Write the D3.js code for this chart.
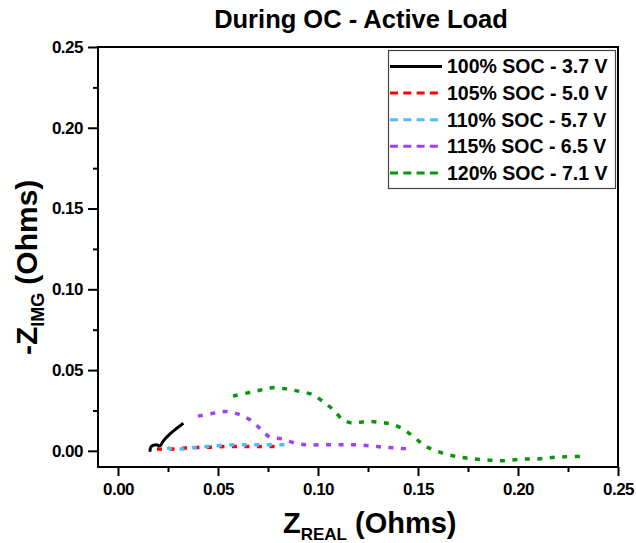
<!DOCTYPE html>
<html>
<head>
<meta charset="utf-8">
<script src="https://cdn.jsdelivr.net/npm/d3@7"></script>
<style>
  html, body { margin: 0; padding: 0; background: #fff; }
  svg { display: block; font-family: "Liberation Sans", Arial, sans-serif; }
</style>
</head>
<body>
<div id="chart"></div>
<script>
// tick values
const xTicks = [0.00, 0.05, 0.10, 0.15, 0.20, 0.25];
const xMinorTicks = [0.025, 0.075, 0.125, 0.175, 0.225];
const yTicks = [0.00, 0.05, 0.10, 0.15, 0.20, 0.25];
const yMinorTicks = [0.025, 0.075, 0.125, 0.175, 0.225];

// legend names
const seriesNames = ["100% SOC - 3.7 V", "105% SOC - 5.0 V", "110% SOC - 5.7 V", "115% SOC - 6.5 V", "120% SOC - 7.1 V"];

// Nyquist data: [Z real, -Z img] (Ohms)
const soc100 = [[0.016, -0.0005], [0.0165, 0.0025], [0.019, 0.0038], [0.021, 0.0031], [0.0225, 0.0059],
                [0.026, 0.0105], [0.0294, 0.014], [0.0327, 0.0171]];
const soc105 = [[0.0195, 0.0011], [0.0269, 0.0011], [0.0336, 0.0017], [0.0398, 0.002], [0.0464, 0.0023],
                [0.0531, 0.0027], [0.0594, 0.0027], [0.066, 0.0027], [0.0725, 0.0027], [0.0795, 0.0027]];
const soc110 = [[0.0245, 0.0017], [0.0319, 0.0011], [0.0385, 0.0021], [0.0447, 0.0027], [0.051, 0.0033],
                [0.0577, 0.0037], [0.064, 0.0037], [0.0707, 0.0037], [0.0769, 0.0037], [0.085, 0.0037]];
const soc115 = [[0.040, 0.0215], [0.0477, 0.0233], [0.054, 0.0243], [0.0602, 0.0227], [0.066, 0.0192],
                [0.0714, 0.0134], [0.076, 0.0085], [0.0819, 0.0074], [0.0885, 0.0048], [0.0944, 0.0037],
                [0.1002, 0.0037], [0.1069, 0.0037], [0.1132, 0.0037], [0.1197, 0.0037], [0.1264, 0.0031],
                [0.1327, 0.0023], [0.1394, 0.0017], [0.147, 0.0009]];
const soc120 = [[0.0575, 0.034], [0.0657, 0.0361], [0.0719, 0.0378], [0.0782, 0.0392], [0.0847, 0.0382],
                [0.091, 0.0367], [0.0974, 0.0347], [0.1027, 0.0302], [0.1077, 0.0254], [0.1124, 0.0192],
                [0.1174, 0.0172], [0.1235, 0.0181], [0.1302, 0.0178], [0.1364, 0.0166], [0.1427, 0.0134],
                [0.1485, 0.0079], [0.1535, 0.0031], [0.1585, 0.0002], [0.1652, -0.0025], [0.1715, -0.0039],
                [0.1777, -0.005], [0.1844, -0.0056], [0.191, -0.0062], [0.1974, -0.0056], [0.2035, -0.0051],
                [0.2102, -0.005], [0.2169, -0.0041], [0.2235, -0.0037], [0.231, -0.0035]];

const seriesData = [soc100, soc105, soc110, soc115, soc120];
const seriesColors = ["#000000", "#ff0000", "#4dbcfb", "#a040f8", "#0a960a"];

const width = 636, height = 543;
const margin = { top: 47, right: 18, bottom: 76, left: 98 };
const innerW = width - margin.left - margin.right;
const innerH = height - margin.top - margin.bottom;

const svg = d3.select("#chart").append("svg").attr("width", width).attr("height", height);
const g = svg.append("g").attr("transform", `translate(${margin.left},${margin.top})`);

const x = d3.scaleLinear().domain([-0.01, 0.25]).range([0, innerW]);
const y = d3.scaleLinear().domain([-0.01, 0.25]).range([innerH, 0]);

// 坐标轴 (major + minor)
const fmt = d3.format(".2f");
const xAxis = g.append("g").attr("transform", `translate(0,${innerH})`)
    .call(d3.axisBottom(x).tickValues(xTicks).tickFormat(fmt).tickSize(9).tickPadding(7).tickSizeOuter(0));
const xMinor = g.append("g").attr("transform", `translate(0,${innerH})`)
    .call(d3.axisBottom(x).tickValues(xMinorTicks).tickFormat("").tickSize(5).tickSizeOuter(0));
const yAxis = g.append("g")
    .call(d3.axisLeft(y).tickValues(yTicks).tickFormat(fmt).tickSize(10).tickPadding(5).tickSizeOuter(0));
const yMinor = g.append("g")
    .call(d3.axisLeft(y).tickValues(yMinorTicks).tickFormat("").tickSize(5).tickSizeOuter(0));

[xAxis, xMinor, yAxis, yMinor].forEach(a => {
    a.select(".domain").remove();
    a.selectAll("line").attr("stroke", "#000").attr("stroke-width", 2);
    a.selectAll("text").attr("fill", "#000").style("font-size", "17px").style("font-weight", "bold")
        .style("font-family", "'Liberation Sans', Arial, sans-serif").style("letter-spacing", "-0.5px");
});

// 数据曲线
const line = d3.line().x(d => x(d[0])).y(d => y(d[1])).curve(d3.curveCatmullRom.alpha(0.5));
seriesData.forEach((data, i) => {
    g.append("path").datum(data)
        .attr("fill", "none")
        .attr("stroke", seriesColors[i])
        .attr("stroke-width", i === 0 ? 3 : 3.5)
        .attr("stroke-dasharray", i === 0 ? null : "5,7.5")
        .attr("d", line);
});

// 外框
g.append("rect").attr("x", 0).attr("y", 0).attr("width", innerW).attr("height", innerH)
    .attr("fill", "none").attr("stroke", "#000").attr("stroke-width", 2);

// 图例
const legend = svg.append("g").attr("transform", "translate(388,50)");
legend.append("rect").attr("x", 0.5).attr("y", 0.5).attr("width", 227).attr("height", 138)
    .attr("fill", "#fff").attr("stroke", "#444").attr("stroke-width", 1.2);
seriesNames.forEach((name, i) => {
    const ly = 16.5 + i * 26.6;
    legend.append("line").attr("x1", 2).attr("x2", 54).attr("y1", ly).attr("y2", ly)
        .attr("stroke", seriesColors[i]).attr("stroke-width", i === 0 ? 2.8 : 3)
        .attr("stroke-dasharray", i === 0 ? null : "8,5.3");
    legend.append("text").attr("x", 59).attr("y", ly + 6.8).text(name)
        .style("font-size", "19.5px").style("font-weight", "bold").attr("fill", "#000");
});

// 标题
svg.append("text").attr("x", 361).attr("y", 28).attr("text-anchor", "middle")
    .style("font-size", "25.5px").style("font-weight", "bold").text("During OC - Active Load");

// X 轴标题
const xl = svg.append("text").attr("x", 283).attr("y", 533).style("font-weight", "bold").style("font-size", "29px");
xl.append("tspan").text("Z");
xl.append("tspan").attr("dy", 7).style("font-size", "17px").text("REAL");
xl.append("tspan").attr("dy", -7).attr("dx", 8).text("(Ohms)");

// Y 轴标题
const yl = svg.append("text").attr("transform", "translate(37,355) rotate(-90)")
    .style("font-weight", "bold").style("font-size", "30px");
yl.append("tspan").text("-Z");
yl.append("tspan").attr("dy", 7).style("font-size", "18px").text("IMG");
yl.append("tspan").attr("dy", -7).attr("dx", 8).text("(Ohms)");
</script>
</body>
</html>
